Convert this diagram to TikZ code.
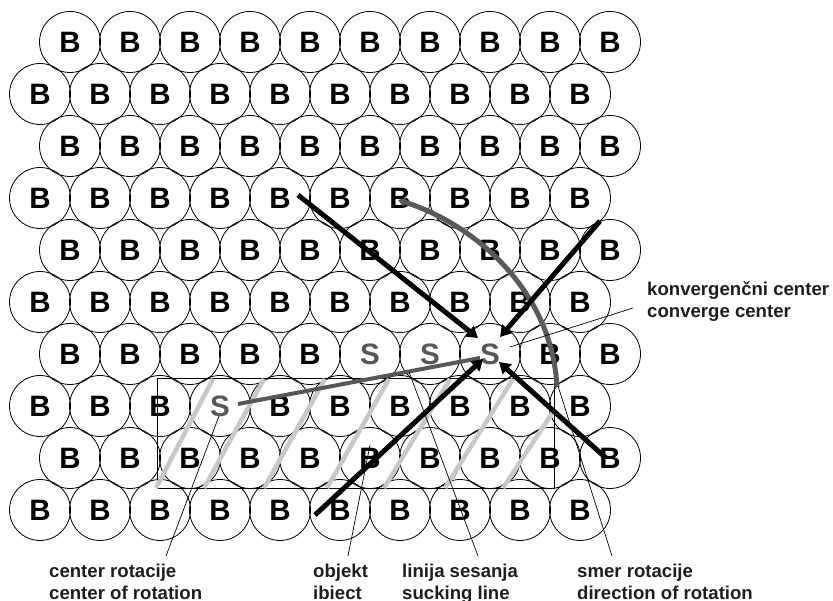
\documentclass[tikz,border=0pt]{standalone}
\usepackage{fontspec}
\setmainfont{Liberation Sans}
\usetikzlibrary{arrows.meta}
\definecolor{sgray}{HTML}{575757}
\definecolor{hatchgray}{HTML}{C8C8C8}
\definecolor{curvegray}{HTML}{5A5A5A}
\definecolor{lbltext}{HTML}{1E1E1E}
\begin{document}
\begin{tikzpicture}[x=1pt,y=-1pt,
  ball/.style={circle,draw=black,line width=0.8pt,minimum size=61pt,inner sep=0pt,
    font=\fontsize{29.5}{29.5}\selectfont\bfseries},
  hatch/.style={hatchgray,line width=4.5pt},
  bigarrow/.style={black,line width=5pt,-{Triangle[length=11pt,width=13pt]}},
  leader/.style={black,line width=0.7pt},
  lbl/.style={anchor=base west,inner sep=0pt,text=lbltext,font=\fontsize{18.6}{23}\selectfont\bfseries}]
\useasboundingbox (0,0) rectangle (833,601);
% grid of balls
\foreach \r in {1,...,10}{
  \foreach \k in {0,...,9}{
    \pgfmathsetmacro{\xx}{(mod(\r,2)==1 ? 70 : 40) + 60*\k}
    \pgfmathsetmacro{\yy}{42+52*(\r-1)}
    \def\lab{B}\def\col{black}
    \ifnum\r=7 \ifnum\k>4 \ifnum\k<8 \def\lab{S}\def\col{sgray}\fi\fi\fi
    \ifnum\r=8 \ifnum\k=3 \def\lab{S}\def\col{sgray}\fi\fi
    \node[ball,text=\col] (c\r-\k) at (\xx,\yy) {\lab};
  }
}
% object rectangle
\coordinate (o1) at (157,378);
\coordinate (o2) at (554,488);
\draw[black,line width=0.8pt] (o1) rectangle (o2);
% hatch lines
\foreach \a/\b/\c/\d [count=\i] in {213/379/156/488, 264/379/204/488, 325/379/264/488,
   389/379/327/488, 450/379/384/488, 513/379/445/488, 553/412/503/488}{
  \coordinate (h\i t) at (\a,\b);
  \coordinate (h\i b) at (\c,\d);
  \draw[hatch] (h\i t) -- (h\i b);
}
% sucking line
\coordinate (sl1) at (238,404);
\coordinate (sl2) at (480,358);
\draw[sgray,line width=4pt] (sl1) -- (sl2);
% direction of rotation curve
\coordinate (cv1) at (398,200);
\coordinate (cv2) at (557,387);
\draw[curvegray,line width=5pt,{Triangle[length=7pt,width=9pt]}-] (cv1) .. controls (474,224) and (552,290) .. (cv2);
% converging arrows
\coordinate (a1) at (298,195);
\coordinate (a2) at (600,221);
\coordinate (a3) at (315,515);
\coordinate (a4) at (606,458);
\coordinate (t1) at (478,338);
\coordinate (t2) at (500,337);
\coordinate (t3) at (483,359);
\coordinate (t4) at (499,362);
\draw[bigarrow] (a1) -- (t1);
\draw[bigarrow] (a2) -- (t2);
\draw[bigarrow] (a3) -- (t3);
\draw[bigarrow] (a4) -- (t4);
% leaders
\coordinate (lk1) at (633,308);
\coordinate (lk2) at (510,347);
\draw[leader] (lk1) -- (lk2);
\coordinate (lc1) at (219,416);
\coordinate (lc2) at (166,556);
\draw[leader] (lc1) -- (lc2);
\coordinate (lo1) at (370,445);
\coordinate (lo2) at (348,556);
\draw[leader] (lo1) -- (lo2);
\coordinate (ll1) at (409,372);
\coordinate (ll2) at (478,556);
\draw[leader] (ll1) -- (ll2);
\coordinate (lr1) at (558,386);
\coordinate (lr2) at (612,556);
\draw[leader] (lr1) -- (lr2);
% labels
\node[lbl] (k1) at (647,296) {konvergenčni center};
\node[lbl] (k2) at (647,318) {converge center};
\node[lbl] (r1) at (49,577) {center rotacije};
\node[lbl] (r2) at (49,599) {center of rotation};
\node[lbl] (p1) at (313,577) {objekt};
\node[lbl] (p2) at (313,599) {ibiect};
\node[lbl] (s1) at (402,577) {linija sesanja};
\node[lbl] (s2) at (402,599) {sucking line};
\node[lbl] (d1) at (577,577) {smer rotacije};
\node[lbl] (d2) at (577,599) {direction of rotation};
\end{tikzpicture}
\end{document}
